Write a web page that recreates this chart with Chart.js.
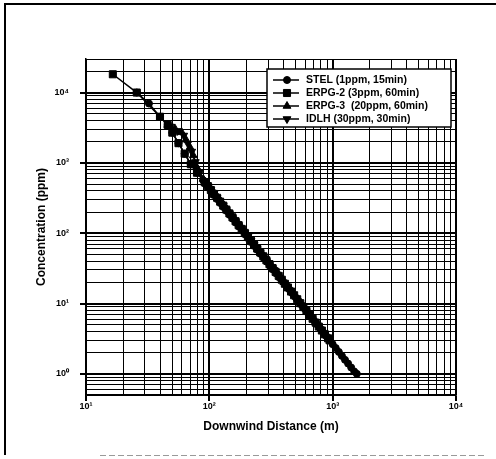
<!DOCTYPE html>
<html>
<head>
<meta charset="utf-8">
<script src="https://cdn.jsdelivr.net/npm/chart.js@4.4.1/dist/chart.umd.min.js"></script>
<style>
html, body { margin: 0; padding: 0; background: #fff; }
canvas { display: block; }
</style>
</head>
<body>
<canvas id="c" width="496" height="459"></canvas>
<script>
// downwind distance (m) and concentration (ppm)
const stelX = [25.8, 32.4, 39.8, 46, 50.1, 56.2, 63.1, 70.8, 79.4,
  89.1, 94.4, 100, 105.9, 112.2, 118.9, 125.9, 133.4, 141.3, 149.6,
  158.5, 167.9, 177.8, 188.4, 199.5, 211.3, 223.9, 237.1, 251.2, 266.1,
  281.8, 298.5, 316.2, 335, 354.8, 375.8, 398.1, 421.7, 446.7, 473.2,
  501.2, 530.9, 562.3, 595.7, 631, 668.3, 707.9, 749.9, 794.3, 841.4,
  891.3, 944.1, 1000, 1059, 1122, 1189, 1259, 1334, 1413, 1496, 1570];
const stelY = [10000, 6980, 4530, 3460, 2690, 1905, 1350, 955, 724,
  566, 498, 438, 386, 340, 299, 263, 231, 204, 179,
  158, 139, 122, 107, 94.6, 83.3, 73.3, 64.5, 56.8, 49.9,
  44.0, 38.7, 34.0, 30.0, 26.4, 23.2, 20.4, 18.0, 15.8, 13.9,
  12.2, 10.8, 9.48, 8.35, 7.35, 6.46, 5.69, 5.01, 4.41, 3.88,
  3.41, 3.00, 2.64, 2.33, 2.05, 1.80, 1.58, 1.40, 1.23, 1.08, 1.0];

const erpg2X = [16.5, 25.8, 39.8, 46, 50.1, 56.2, 63.1, 70.8, 79.4,
  91.7, 97.2, 102.9, 109.0, 115.5, 122.3, 129.6, 137.2, 145.4, 154.0,
  163.1, 172.8, 183.0, 193.9, 205.4, 217.6, 230.4, 244.1, 258.6, 273.9,
  290.1, 307.3, 325.6, 344.9, 365.3, 386.9, 409.8, 434.1, 459.8, 487.0,
  515.9, 546.5, 578.8, 613.1, 649.4, 687.9, 728.8, 771.9, 817.6, 866.0,
  917.4, 944];
const erpg2Y = [18200, 10000, 4530, 3460, 2690, 1905, 1350, 955, 724,
  531, 468, 411, 362, 319, 281, 247, 217, 191, 168,
  148, 130, 115, 101, 88.8, 78.2, 68.8, 60.5, 53.2, 46.9,
  41.2, 36.3, 31.9, 28.1, 24.7, 21.8, 19.1, 16.9, 14.8, 13.1,
  11.5, 10.1, 8.90, 7.83, 6.89, 6.07, 5.34, 4.70, 4.13, 3.64,
  3.20, 3.0];

const erpg3X = [46, 52.5, 59.7, 64.6, 69.7, 74.1, 79.1, 89.3,
  94.4, 100, 105.9, 112.2, 118.9, 125.9, 133.4, 141.3, 149.6, 158.5,
  167.9, 177.8, 188.4, 199.5, 211.3, 223.9, 237.1, 251.2, 266.1, 281.8,
  298.5, 316.2, 335, 354.8, 375.8, 402];
const erpg3Y = [3460, 3090, 2717, 2138, 1667, 1274, 869, 589,
  498, 438, 386, 340, 299, 263, 231, 204, 179, 158,
  139, 122, 107, 94.6, 83.3, 73.3, 64.5, 56.8, 49.9, 44.0,
  38.7, 34.0, 30.0, 26.4, 23.2, 20];

const idlhX = [48, 55, 62, 67, 72, 77, 84,
  91.7, 97.2, 102.9, 109.0, 115.5, 122.3, 129.6, 137.2, 145.4, 154.0,
  163.1, 172.8, 183.0, 193.9, 205.4, 217.6, 230.4, 244.1, 258.6, 273.9,
  290.1, 307.3, 325.6, 335];
const idlhY = [3300, 2850, 2450, 1880, 1450, 1030, 740,
  531, 468, 411, 362, 319, 281, 247, 217, 191, 168,
  148, 130, 115, 101, 88.8, 78.2, 68.8, 60.5, 53.2, 46.9,
  41.2, 36.3, 31.9, 30];

// grid lines and labelled decades
const xTicks = [10, 20, 30, 40, 50, 60, 70, 80, 90,
  100, 200, 300, 400, 500, 600, 700, 800, 900,
  1000, 2000, 3000, 4000, 5000, 6000, 7000, 8000, 9000, 10000];
const yTicks = [0.5, 0.6, 0.7, 0.8, 0.9,
  1, 2, 3, 4, 5, 6, 7, 8, 9,
  10, 20, 30, 40, 50, 60, 70, 80, 90,
  100, 200, 300, 400, 500, 600, 700, 800, 900,
  1000, 2000, 3000, 4000, 5000, 6000, 7000, 8000, 9000,
  10000, 20000, 30000];
const decadeVals = [1, 10, 100, 1000, 10000];
const decadeLabels = ['10⁰', '10¹', '10²', '10³', '10⁴'];

const FONT = '"Liberation Sans", Arial, sans-serif';

function pts(xs, ys) {
  return xs.map((x, i) => ({ x: x, y: ys[i] }));
}

function series(label, xs, ys, style, radius, rotation) {
  return {
    label: label,
    data: pts(xs, ys),
    borderColor: '#000',
    backgroundColor: '#000',
    borderWidth: 1.5,
    pointStyle: style,
    pointRadius: radius,
    pointRotation: rotation,
    pointBackgroundColor: '#000',
    pointBorderColor: '#000',
    pointBorderWidth: 1,
    tension: 0
  };
}

function decadeLabel(v) {
  const i = decadeVals.findIndex(d => Math.abs(d - v) < 1e-9);
  return i < 0 ? '' : decadeLabels[i];
}

function gridScale(ticksList, fit) {
  return {
    type: 'logarithmic',
    min: ticksList[0],
    max: ticksList[ticksList.length - 1],
    afterBuildTicks: s => {
      s.ticks = ticksList.map(v => ({ value: v, major: decadeVals.indexOf(v) >= 0 }));
    },
    afterFit: fit,
    ticks: {
      autoSkip: false,
      maxRotation: 0,
      color: '#000',
      font: { family: FONT, size: 9, weight: 'bold' },
      callback: v => decadeLabel(v)
    },
    grid: {
      color: '#000',
      lineWidth: c => (c.tick && c.tick.major ? 2 : 1),
      tickColor: c => (c.tick && c.tick.major ? '#000' : 'rgba(0,0,0,0)'),
      tickLength: 6
    },
    border: { color: '#000', width: 1.5 }
  };
}

// white page with the scanned frame edges
const framePlugin = {
  id: 'frame',
  beforeDraw(chart) {
    const ctx = chart.ctx;
    ctx.save();
    ctx.fillStyle = '#fff';
    ctx.fillRect(0, 0, chart.width, chart.height);
    ctx.strokeStyle = '#000';
    ctx.lineWidth = 2;
    ctx.beginPath();
    ctx.moveTo(5, 455);
    ctx.lineTo(5, 4);
    ctx.lineTo(496, 4);
    ctx.stroke();
    ctx.strokeStyle = '#999';
    ctx.lineWidth = 1;
    ctx.setLineDash([6, 3]);
    ctx.beginPath();
    ctx.moveTo(100, 455.5);
    ctx.lineTo(486, 455.5);
    ctx.stroke();
    ctx.restore();
  }
};

// boxed legend, line plus marker for each dataset
const legendPlugin = {
  id: 'boxLegend',
  afterDraw(chart) {
    const ctx = chart.ctx;
    const box = { left: 267, top: 69, width: 184, height: 58 };
    ctx.save();
    ctx.fillStyle = '#fff';
    ctx.fillRect(box.left, box.top, box.width, box.height);
    ctx.strokeStyle = '#000';
    ctx.lineWidth = 1.5;
    ctx.strokeRect(box.left, box.top, box.width, box.height);
    ctx.font = 'bold 10.5px ' + FONT;
    ctx.textBaseline = 'middle';
    chart.data.datasets.forEach((ds, i) => {
      const y = box.top + 11 + i * 13;
      ctx.strokeStyle = '#000';
      ctx.lineWidth = 1.5;
      ctx.beginPath();
      ctx.moveTo(box.left + 6, y);
      ctx.lineTo(box.left + 32, y);
      ctx.stroke();
      ctx.fillStyle = '#000';
      ctx.lineWidth = 1;
      Chart.helpers.drawPoint(ctx, {
        pointStyle: ds.pointStyle,
        rotation: ds.pointRotation,
        radius: ds.pointRadius,
        borderWidth: 1
      }, box.left + 20, y);
      ctx.fillText(ds.label, box.left + 39, y + 0.5);
    });
    ctx.restore();
  }
};

const xScale = gridScale(xTicks, s => { s.height = 64; });
xScale.ticks.padding = 0;
xScale.title = {
  display: true,
  text: 'Downwind Distance (m)',
  color: '#000',
  font: { family: FONT, size: 12, weight: 'bold' },
  padding: { top: 0, bottom: 25 }
};

const yScale = gridScale(yTicks, s => { s.width = 86; });
yScale.ticks.padding = 11;
yScale.title = {
  display: true,
  text: 'Concentration (ppm)',
  color: '#000',
  font: { family: FONT, size: 12, weight: 'bold' },
  padding: { top: 34, bottom: 0 }
};

new Chart(document.getElementById('c'), {
  type: 'line',
  data: {
    datasets: [
      series('STEL (1ppm, 15min)', stelX, stelY, 'circle', 3.5, 0),
      series('ERPG-2 (3ppm, 60min)', erpg2X, erpg2Y, 'rect', 5, 0),
      series('ERPG-3  (20ppm, 60min)', erpg3X, erpg3Y, 'triangle', 4.5, 0),
      series('IDLH (30ppm, 30min)', idlhX, idlhY, 'triangle', 4.5, 180)
    ]
  },
  options: {
    responsive: false,
    animation: false,
    layout: { padding: { top: 59, right: 40, left: 0, bottom: 0 } },
    plugins: {
      legend: { display: false },
      tooltip: { enabled: false }
    },
    scales: { x: xScale, y: yScale }
  },
  plugins: [framePlugin, legendPlugin]
});
</script>
</body>
</html>
